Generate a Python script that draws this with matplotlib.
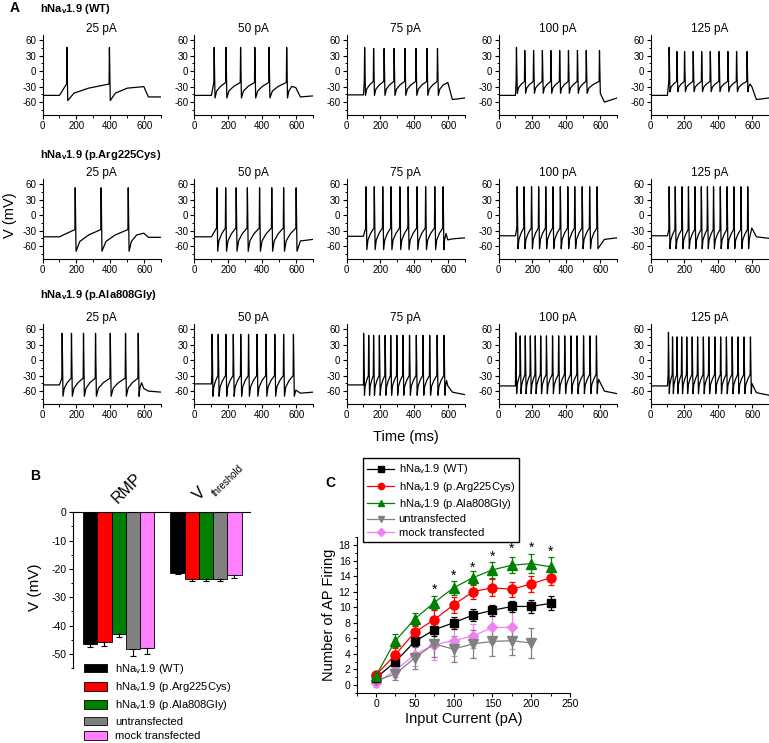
import numpy as np
import matplotlib
matplotlib.use("Agg")
import matplotlib.pyplot as plt
from matplotlib.patches import Patch
from matplotlib.lines import Line2D
from matplotlib.ticker import MultipleLocator

plt.rcParams['font.family'] = ['Liberation Sans', 'DejaVu Sans']
plt.rcParams['mathtext.fontset'] = 'custom'
plt.rcParams['mathtext.rm'] = 'Liberation Sans'
plt.rcParams['mathtext.default'] = 'regular'
plt.rcParams['axes.unicode_minus'] = False

W, H = 769, 743

# ---- panel A: spike trains (spike times in ms) ----
currents_a = ["25 pA", "50 pA", "75 pA", "100 pA", "125 pA"]
row_names = [r"hNa$_\mathregular{v}$1.9 (WT)",
             r"hNa$_\mathregular{v}$1.9 (p.Arg225Cys)",
             r"hNa$_\mathregular{v}$1.9 (p.Ala808Gly)"]

wt_spikes = [[144, 395],
             [116, 186, 272, 356, 440, 544],
             [107, 160, 222, 281, 345, 410, 475, 537],
             [106, 155, 207, 259, 309, 361, 413, 466, 518, 596],
             [110, 156, 201, 252, 302, 353, 405, 457, 508, 570]]
arg_spikes = [[193, 346, 506],
              [132, 184, 246, 312, 384, 456, 526, 600],
              [115, 164, 214, 263, 315, 364, 416, 467, 521, 570],
              [110, 151, 195, 237, 279, 321, 365, 409, 450, 494, 538, 582],
              [110, 146, 186, 224, 262, 300, 336, 372, 412, 452, 492, 534, 574]]
ala_spikes = [[116, 171, 242, 313, 400, 490, 565],
              [104, 140, 185, 229, 273, 319, 369, 422, 474, 526, 584],
              [101, 131, 160, 194, 228, 261, 297, 333, 372, 412, 451, 491, 535, 576],
              [102, 128, 158, 188, 217, 249, 283, 319, 355, 391, 427, 464, 502, 540, 578],
              [106, 130, 156, 184, 214, 246, 278, 312, 344, 380, 414, 448, 482, 516, 552, 590]]

# baseline, first peak, later peaks, trough, threshold, bump at 600, low, end (mV)
wt_params = [(-47, 46, 46, -57, -25, -30, -50, -50),
             (-47, 46, 46, -52, -22, -32, -50, -48),
             (-46, 46, 44, -47, -20, -22, -55, -52),
             (-47, 46, 40, -43, -20, None, -60, -52),
             (-47, 46, 38, -40, -20, -30, -55, -52)]
arg_params = [(-42, 53, 53, -70, -28, -35, -43, -43),
              (-42, 53, 53, -70, -25, None, -50, -47),
              (-41, 55, 55, -67, -25, -48, -46, -44),
              (-40, 55, 55, -65, -25, None, -47, -44),
              (-40, 55, 55, -65, -28, -25, -42, -45)]
ala_params = [(-48, 52, 52, -70, -35, -55, -60, -62),
              (-46, 50, 50, -70, -30, -58, -64, -62),
              (-48, 52, 48, -68, -30, -50, -62, -67),
              (-50, 53, 47, -65, -28, -42, -60, -65),
              (-50, 54, 45, -65, -28, -45, -63, -68)]

# ---- panel B ----
groups_b = ["RMP", "threshold"]
labels_b = [r"hNa$_\mathregular{v}$1.9 (WT)", r"hNa$_\mathregular{v}$1.9 (p.Arg225Cys)",
            r"hNa$_\mathregular{v}$1.9 (p.Ala808Gly)", "untransfected", "mock transfected"]
colors_b = ["black", "#ff0000", "#008000", "#808080", "#ff80ff"]
rmp = [-46.6, -45.8, -43.0, -48.3, -48.1]
rmp_err = [0.9, 1.4, 1.2, 2.4, 2.0]
vthr = [-21.6, -23.7, -23.7, -23.6, -22.2]
vthr_err = [0.35, 0.7, 0.7, 0.7, 0.9]

# ---- panel C ----
inj = [0, 25, 50, 75, 100, 125, 150, 175, 200, 225]
wt_n = [0.9, 3.0, 5.6, 7.1, 8.0, 9.0, 9.6, 10.1, 10.1, 10.5]
wt_e = [0.3, 0.6, 0.6, 0.8, 0.8, 0.8, 0.7, 0.7, 0.8, 0.9]
arg_n = [1.3, 3.9, 6.8, 8.4, 10.3, 12.0, 12.5, 12.3, 13.0, 13.8]
arg_e = [0.3, 0.8, 0.8, 1.2, 1.0, 1.0, 1.1, 1.0, 1.0, 0.9]
ala_n = [1.2, 5.7, 8.5, 10.6, 12.5, 13.8, 14.8, 15.4, 15.6, 15.2]
ala_e = [0.3, 0.8, 0.8, 0.8, 0.9, 0.9, 1.0, 1.0, 1.2, 1.2]
untr_n = [0.6, 1.4, 3.5, 5.3, 4.6, 5.3, 5.6, 5.7, 5.4]
untr_e = [0.3, 0.7, 1.4, 1.7, 1.7, 1.8, 1.9, 1.9, 1.9]
mock_n = [0.2, 1.9, 3.9, 5.2, 5.7, 6.3, 7.4, 7.4]
mock_e = [0.5, 0.9, 1.5, 2.0, 2.0, 1.6, 2.0, 2.8]
star_x = [75, 100, 125, 150, 175, 200, 225]
star_y = [12.3, 14.0, 15.1, 16.5, 17.5, 17.6, 17.1]


def trace(spikes, p):
    base, pk1, pk, trough, thr, bump, low, end = p
    t = [0, 100]
    v = [base, base]
    for i, s in enumerate(spikes):
        t += [max(s - 2, 100.5), s, s + 5]
        v += [thr, pk1 if i == 0 else pk, trough]
        nxt = spikes[i + 1] if i + 1 < len(spikes) else 600
        gap = nxt - (s + 5)
        if gap > 15:
            # concave recovery after the AHP
            t += [s + 5 + 0.15 * gap, s + 5 + 0.5 * gap]
            v += [trough + 0.45 * (thr - trough), trough + 0.75 * (thr - trough)]
    if bump is not None and spikes[-1] < 595:
        t.append(598)
        v.append(bump)
    t += [625, 700]
    v += [low, end]
    return t, v


def px_axes(fig, left, top, right, bottom):
    return fig.add_axes([left / W, 1 - bottom / H, (right - left) / W, (bottom - top) / H])


fig = plt.figure(figsize=(W / 100, H / 100), dpi=100)

row_tops = [35, 179, 324]
row_label_y = [9, 155, 295]
for r, (spk, par) in enumerate([(wt_spikes, wt_params), (arg_spikes, arg_params), (ala_spikes, ala_params)]):
    fig.text(40 / W, 1 - row_label_y[r] / H, row_names[r], fontsize=8, fontweight='bold', va='center')
    for c in range(5):
        left = 42.5 + 152 * c
        ax = px_axes(fig, left, row_tops[r], left + 118.6, row_tops[r] + 80)
        t, v = trace(spk[c], par[c])
        ax.plot(t, v, color='black', lw=0.9)
        ax.set_xlim(0, 700)
        ax.set_ylim(-85, 70)
        ax.set_xticks([0, 200, 400, 600])
        ax.set_yticks([-60, -30, 0, 30, 60])
        ax.xaxis.set_minor_locator(MultipleLocator(100))
        ax.yaxis.set_minor_locator(MultipleLocator(15))
        ax.spines['top'].set_visible(False)
        ax.spines['right'].set_visible(False)
        ax.tick_params(direction='out', length=3, width=0.8, labelsize=7, pad=1.5)
        ax.tick_params(which='minor', direction='out', length=1.8, width=0.7)
        ax.set_title(currents_a[c], fontsize=8.5, pad=2)

fig.text(10 / W, 1 - 8 / H, "A", fontsize=10, fontweight='bold', va='center')
fig.text(10 / W, 1 - 215 / H, "V (mV)", fontsize=10.5, rotation=90, va='center', ha='center')
fig.text(406 / W, 1 - 437 / H, "Time (ms)", fontsize=10.5, va='center', ha='center')

# ---- panel B ----
axb = px_axes(fig, 73, 512.3, 250, 668)
w = 0.1627
for j in range(5):
    xs = [0 + (j - 2) * w, 1 + (j - 2) * w]
    ys = [rmp[j], vthr[j]]
    es = [rmp_err[j], vthr_err[j]]
    axb.bar(xs, ys, width=w, color=colors_b[j], edgecolor='black', linewidth=0.6, label=labels_b[j])
    axb.errorbar(xs, ys, yerr=[es, [0, 0]], fmt='none', ecolor='black', elinewidth=0.8, capsize=2.2, capthick=0.8)
axb.set_xlim(-0.523, 1.504)
axb.set_ylim(-55, 0)
axb.set_xticks([])
axb.set_yticks([0, -10, -20, -30, -40, -50])
axb.yaxis.set_minor_locator(MultipleLocator(5))
axb.spines['bottom'].set_visible(False)
axb.spines['right'].set_visible(False)
axb.tick_params(direction='out', length=3, width=0.8, labelsize=7.5, pad=1.5)
axb.tick_params(which='minor', direction='out', length=1.8, width=0.7)
fig.text(30 / W, 1 - 476 / H, "B", fontsize=10, fontweight='bold', va='center')
fig.text(35 / W, 1 - 587 / H, "V (mV)", fontsize=11, rotation=90, va='center', ha='center')
fig.text(127 / W, 1 - 488 / H, groups_b[0], fontsize=11.5, rotation=45, va='center', ha='center')
fig.text(200 / W, 1 - 494 / H, "V", fontsize=12, rotation=45, va='center', ha='center')
fig.text(228 / W, 1 - 481 / H, groups_b[1], fontsize=7, rotation=45, va='center', ha='center')
handles_b = [Patch(facecolor=colors_b[j], edgecolor='black', linewidth=0.6) for j in range(5)]
fig.legend(handles_b, labels_b, loc='upper left', bbox_to_anchor=(84 / W, 1 - 662 / H),
           frameon=False, fontsize=8, handlelength=2.1, handleheight=0.8, labelspacing=0.38,
           handletextpad=0.7, borderpad=0, borderaxespad=0)

# ---- panel C ----
axc = px_axes(fig, 356.6, 537.2, 570, 692.8)
series = [(mock_n, mock_e, '#ee82ee', 'D', 5.5),
          (untr_n, untr_e, '#808080', 'v', 7),
          (wt_n, wt_e, 'black', 's', 5.8),
          (arg_n, arg_e, '#ff0000', 'o', 6.5),
          (ala_n, ala_e, '#008000', '^', 7)]
for n, e, col, mk, ms in series:
    axc.errorbar(inj[:len(n)], n, yerr=e, color=col, marker=mk, markersize=ms, lw=0.9,
                 elinewidth=0.9, capsize=2.2, capthick=0.9)
for x, y in zip(star_x, star_y):
    axc.text(x, y, "*", fontsize=10, ha='center', va='center')
axc.set_xlim(-25, 250)
axc.set_ylim(-1, 19)
axc.set_xticks([0, 50, 100, 150, 200, 250])
axc.set_yticks(range(0, 19, 2))
axc.xaxis.set_minor_locator(MultipleLocator(25))
axc.yaxis.set_minor_locator(MultipleLocator(1))
axc.spines['top'].set_visible(False)
axc.spines['right'].set_visible(False)
axc.tick_params(direction='out', length=3, width=0.8, labelsize=7.5, pad=1.5)
axc.tick_params(which='minor', direction='out', length=1.8, width=0.7)
axc.set_xlabel("Input Current (pA)", fontsize=10.5, labelpad=2)
axc.set_ylabel("Number of AP Firing", fontsize=10.5, labelpad=2)
fig.text(325 / W, 1 - 483 / H, "C", fontsize=10, fontweight='bold', va='center')
handles_c = [Line2D([], [], color='black', marker='s', markersize=4, lw=0.9),
             Line2D([], [], color='#ff0000', marker='o', markersize=4.5, lw=0.9),
             Line2D([], [], color='#008000', marker='^', markersize=5, lw=0.9),
             Line2D([], [], color='#808080', marker='v', markersize=5, lw=0.9),
             Line2D([], [], color='#ee82ee', marker='D', markersize=4, lw=0.9)]
leg = fig.legend(handles_c, labels_b, loc='upper left', bbox_to_anchor=(363 / W, 1 - 458 / H),
                 fontsize=8, fancybox=False, edgecolor='black', framealpha=1,
                 handlelength=2.4, labelspacing=0.3, handletextpad=0.4, borderpad=0.4, borderaxespad=0)
leg.get_frame().set_linewidth(1)

fig.savefig("out.png", dpi=100)
